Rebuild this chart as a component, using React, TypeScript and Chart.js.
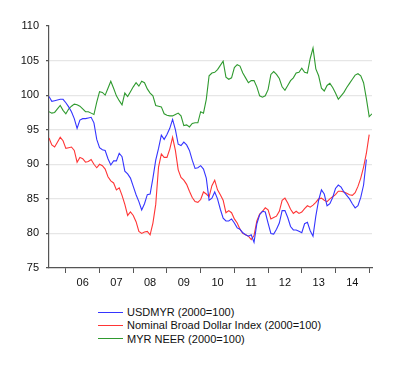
import React, { useEffect, useRef } from 'react';
import { Chart, registerables } from 'chart.js';

Chart.register(...registerables);

// Monthly observations, index 0 = Jul 2005
const usdmyr = [
  99.8, 99.1, 99.2, 99.3, 99.4, 99.4, 98.9, 98.3, 97.6, 96.6, 95.2, 96.4,
  96.6, 96.6, 96.7, 96.8, 96.0, 93.6, 92.4, 92.1, 92.0, 90.8, 89.9, 90.5,
  90.5, 91.6, 91.1, 89.0, 88.6, 88.0, 86.8, 85.6, 84.6, 83.4, 84.3, 85.6,
  85.7, 88.0, 90.6, 92.3, 94.2, 93.6, 94.3, 95.2, 96.5, 95.0, 92.9, 92.7,
  93.2, 92.8, 92.0, 90.6, 89.4, 89.5, 89.8, 89.3, 88.0, 84.8, 85.1, 86.0,
  85.0, 83.5, 82.2, 81.8, 81.8, 82.1, 81.5, 80.8, 80.6, 80.1, 79.8, 79.6,
  79.8, 78.7, 81.4, 82.7, 83.2, 83.1, 81.5, 80.0, 79.9, 80.6, 81.5, 83.3,
  83.3, 82.3, 81.0, 80.5, 80.5, 80.3, 80.1, 81.4, 81.6, 80.4, 79.6, 82.5,
  84.8, 86.3, 85.7, 84.0, 84.3, 85.2, 86.5, 87.0, 86.7, 86.0, 85.5, 85.0,
  84.3, 83.7, 84.0, 85.2, 87.0, 90.7,
];

const broadDollar = [
  93.8, 92.8, 92.5, 93.2, 93.9, 93.4, 92.3, 92.4, 92.5, 92.0, 90.3, 91.0,
  90.8, 90.3, 90.4, 90.7, 90.0, 89.5, 90.0, 89.8, 89.3, 88.2, 87.6, 87.3,
  86.3, 86.6, 85.5, 84.2, 82.6, 83.1, 82.6, 81.7, 80.3, 80.0, 80.2, 80.3,
  79.8, 81.5, 84.2, 89.6, 91.5, 91.0, 91.0, 92.2, 93.9, 92.0, 89.2, 88.1,
  87.7, 87.1, 86.1, 85.2, 84.6, 84.5, 84.9, 86.0, 85.7, 85.3, 86.9, 87.7,
  86.3, 85.6, 84.8, 83.0, 83.3, 83.0, 82.1, 81.5, 80.6, 80.0, 79.8, 79.6,
  79.1, 79.7, 81.8, 82.8, 83.2, 83.7, 83.4, 82.1, 82.3, 82.5, 83.2, 84.8,
  85.1, 84.4, 83.5, 82.9, 83.2, 82.9, 83.1, 83.6, 84.0, 83.8, 84.1, 84.5,
  85.0, 85.1, 84.8, 84.6, 85.0, 85.3, 85.6, 86.1, 86.1, 86.0, 85.8, 85.6,
  85.5, 85.9, 86.8, 88.0, 89.6, 91.6, 94.3,
];

const myrNeer = [
  97.6, 97.4, 97.5, 98.0, 98.5, 97.8, 97.3, 98.0, 98.4, 98.7, 98.6, 98.4,
  98.0, 97.6, 97.6, 97.4, 97.2, 99.0, 100.5, 100.4, 100.0, 101.0, 102.0, 101.0,
  99.9, 99.2, 98.6, 100.3, 99.8, 100.5, 101.2, 101.8, 101.3, 102.0, 101.8, 100.9,
  100.3, 99.9, 98.5, 98.4, 98.3, 97.3, 97.1, 97.0, 97.0, 97.2, 97.4, 97.0,
  95.6, 95.7, 95.4, 95.9, 96.0, 96.0, 97.6, 97.4, 99.4, 102.8, 103.2, 103.3,
  103.7, 104.3, 104.9, 102.6, 102.3, 102.5, 104.0, 104.4, 104.2, 103.2, 102.5, 101.8,
  102.1, 102.1, 101.2, 99.9, 99.7, 99.9, 100.8, 103.0, 103.4, 103.0, 102.4, 101.2,
  100.7, 101.4, 102.1, 102.5, 103.2, 103.3, 103.9, 103.3, 103.2, 105.3, 106.8, 103.8,
  102.8, 101.0, 100.6, 101.4, 101.7, 101.1, 100.3, 99.4, 99.9, 100.4, 101.1, 101.7,
  102.3, 102.9, 103.1, 102.8, 101.8, 99.5, 96.9, 97.3,
];

const yearLabels = ['06', '07', '08', '09', '10', '11', '12', '13', '14'];
const seriesNames = ['USDMYR (2000=100)', 'Nominal Broad Dollar Index (2000=100)', 'MYR NEER (2000=100)'];
const seriesColors = ['#3535ff', '#ff3535', '#2f9a2f'];

const FONT = '"Liberation Sans", Arial, sans-serif';

export default function App() {
  const ref = useRef<HTMLCanvasElement>(null);

  useEffect(() => {
    if (!ref.current) return;
    const toPts = (arr: number[]) => arr.map((y, i) => ({ x: i, y }));
    const all = [usdmyr, broadDollar, myrNeer];
    const lastIndex = myrNeer.length - 1;
    const chart = new Chart(ref.current, {
      type: 'line',
      data: {
        datasets: all.map((arr, k) => ({
          label: seriesNames[k],
          data: toPts(arr),
          borderColor: seriesColors[k],
          backgroundColor: seriesColors[k],
          borderWidth: 1.1,
          pointRadius: 0,
          tension: 0,
          fill: false,
        })),
      },
      options: {
        animation: false,
        responsive: false,
        maintainAspectRatio: false,
        layout: { padding: { top: 26, right: 28, left: 0, bottom: 0 } },
        plugins: { legend: { display: false }, tooltip: { enabled: false } },
        scales: {
          x: {
            type: 'linear',
            min: 0,
            max: lastIndex,
            afterBuildTicks: (s: any) => {
              const t: any[] = [];
              for (let v = 6; v <= 114; v += 6) t.push({ value: v });
              s.ticks = t;
            },
            afterFit: (s: any) => {
              s.height = 32;
            },
            grid: {
              drawOnChartArea: false,
              tickLength: 5,
              tickColor: (ctx: any) =>
                ctx.tick && (ctx.tick.value - 6) % 12 === 0 ? '#555' : 'rgba(0,0,0,0)',
            },
            border: { color: '#555', width: 1.2 },
            ticks: {
              autoSkip: false,
              maxRotation: 0,
              padding: 3,
              color: '#111',
              font: { family: FONT, size: 11 },
              callback: (v: any) => {
                const n = Number(v);
                if (n % 12 === 0 && n >= 12) return yearLabels[n / 12 - 1] ?? '';
                return '';
              },
            },
          },
          y: {
            min: 75,
            max: 110,
            afterFit: (s: any) => {
              s.width = 49;
            },
            grid: {
              tickLength: 3,
              tickColor: '#555',
              color: (ctx: any) =>
                ctx.tick && (ctx.tick.value === 110 || ctx.tick.value === 75)
                  ? 'rgba(0,0,0,0)'
                  : '#e6e6e6',
              lineWidth: 1.2,
            },
            border: { color: '#555', width: 1.2 },
            ticks: {
              stepSize: 5,
              padding: 7,
              color: '#111',
              font: { family: FONT, size: 11 },
            },
          },
        },
      },
    });
    return () => chart.destroy();
  }, []);

  const rowTops = [305, 318, 331.5];

  return (
    <div style={{ position: 'absolute', left: 0, top: 0, width: 400, height: 370, background: '#fff', fontFamily: FONT }}>
      <canvas ref={ref} width={400} height={300} style={{ position: 'absolute', left: 0, top: 0, width: 400, height: 300 }} />
      {seriesNames.map((name, k) => (
        <div key={name} style={{ position: 'absolute', left: 98, top: rowTops[k], height: 14, display: 'flex', alignItems: 'center', whiteSpace: 'nowrap' }}>
          <div style={{ width: 25, height: 1, background: seriesColors[k], marginRight: 4 }} />
          <span style={{ fontSize: 11, color: '#111', lineHeight: '14px' }}>{name}</span>
        </div>
      ))}
    </div>
  );
}
